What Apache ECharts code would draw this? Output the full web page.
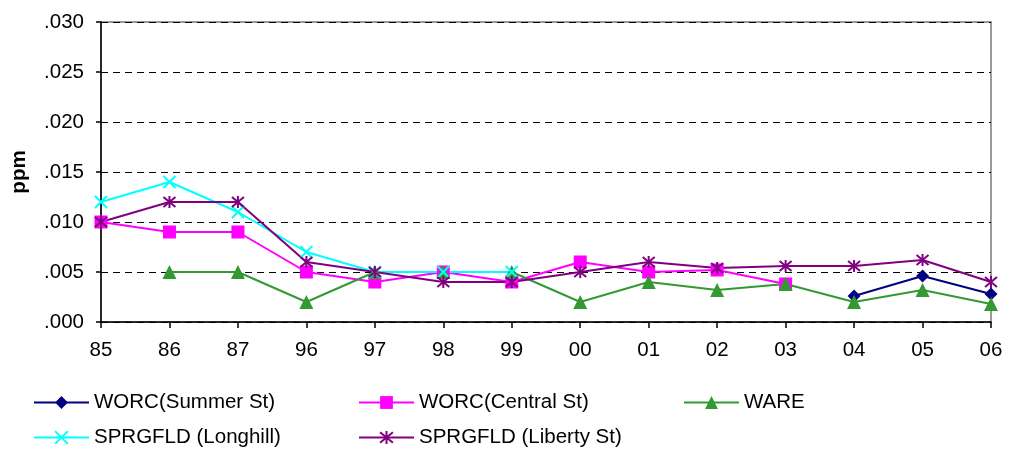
<!DOCTYPE html>
<html>
<head>
<meta charset="utf-8">
<script src="https://cdn.jsdelivr.net/npm/echarts@6/dist/echarts.min.js"></script>
<style>
html,body{margin:0;padding:0;background:#fff;}
#chart{width:1009px;height:451px;}
</style>
</head>
<body>
<div id="chart"></div>
<script>
var categories = ["85","86","87","96","97","98","99","00","01","02","03","04","05","06"];
var worcSummer  = [null,null,null,null,null,null,null,null,null,null,null,0.0026,0.0046,0.0028];
var worcCentral = [0.010,0.009,0.009,0.005,0.004,0.005,0.004,0.006,0.005,0.0052,0.0038,null,null,null];
var ware        = [null,0.005,0.005,0.002,0.005,0.005,0.005,0.002,0.004,0.0032,0.0038,0.002,0.0032,0.0018];
var longhill    = [0.012,0.014,0.011,0.007,0.005,0.005,0.005,null,null,null,null,null,null,null];
var liberty     = [0.010,0.012,0.012,0.006,0.005,0.004,0.004,0.005,0.006,0.0054,0.0056,0.0056,0.0062,0.004];
var seriesNames = ["WORC(Summer St)","WORC(Central St)","WARE","SPRGFLD (Longhill)","SPRGFLD (Liberty St)"];

var FONT = 'Liberation Sans, Arial, sans-serif';
var FS = 20.5;
var xPath = 'path://M0,0 L10,10 M10,0 L0,10';
var starPath = 'path://M0,0 L10,10 M10,0 L0,10 M5,-1 L5,11';

function mk(name, data, color, symbol, size, stroke) {
  return {
    name: name, type: 'line', data: data, connectNulls: false,
    symbol: symbol, symbolSize: size, showSymbol: true,
    lineStyle: {color: color, width: 2},
    itemStyle: stroke ? {color: color, borderColor: color, borderWidth: 2} : {color: color},
    emphasis: {disabled: true},
    z: 2
  };
}

var chart = echarts.init(document.getElementById('chart'), null, {renderer: 'canvas'});
var legendCommon = {
  orient: 'vertical', itemWidth: 55, itemHeight: 16, itemGap: 14,
  textStyle: {fontFamily: FONT, fontSize: FS, color: '#000'},
  selectedMode: false, top: 392, padding: 0
};
chart.setOption({
  animation: false,
  backgroundColor: '#fff',
  grid: {left: 101, right: 18, top: 22, bottom: 129, show: true, borderColor: '#9a9a9a', borderWidth: 2, backgroundColor: 'transparent'},
  legend: [
    Object.assign({}, legendCommon, {left: 33, data: [seriesNames[0], seriesNames[3]]}),
    Object.assign({}, legendCommon, {left: 358, data: [seriesNames[1], seriesNames[4]]}),
    Object.assign({}, legendCommon, {left: 683, data: [seriesNames[2]]})
  ],
  xAxis: {
    type: 'category', data: categories, boundaryGap: false,
    axisLine: {lineStyle: {color: '#000', width: 1.5}},
    axisTick: {show: true, length: 6, alignWithLabel: true, lineStyle: {color: '#000', width: 1.5}},
    axisLabel: {fontFamily: FONT, fontSize: FS, color: '#000', margin: 18},
    splitLine: {show: false}
  },
  yAxis: {
    type: 'value', min: 0, max: 0.03, interval: 0.005,
    name: 'ppm', nameLocation: 'middle', nameGap: 71, nameRotate: 90,
    nameTextStyle: {fontFamily: FONT, fontSize: FS, fontWeight: 'bold', color: '#000'},
    axisLine: {show: true, lineStyle: {color: '#000', width: 1.5}},
    axisTick: {show: true, length: 5, lineStyle: {color: '#000', width: 1.5}},
    axisLabel: {fontFamily: FONT, fontSize: FS, color: '#000', margin: 17,
      formatter: function(v){ return v.toFixed(3).replace(/^0/, ''); }},
    splitLine: {show: true, lineStyle: {color: '#000', type: [7,5], width: 1}}
  },
  series: [
    mk(seriesNames[0], worcSummer, '#000080', 'diamond', 13, false),
    mk(seriesNames[1], worcCentral, '#ff00ff', 'rect', 13, false),
    mk(seriesNames[2], ware, '#339933', 'triangle', 14, false),
    mk(seriesNames[3], longhill, '#00ffff', xPath, 12, true),
    mk(seriesNames[4], liberty, '#800080', starPath, 12, true)
  ]
});
</script>
</body>
</html>
